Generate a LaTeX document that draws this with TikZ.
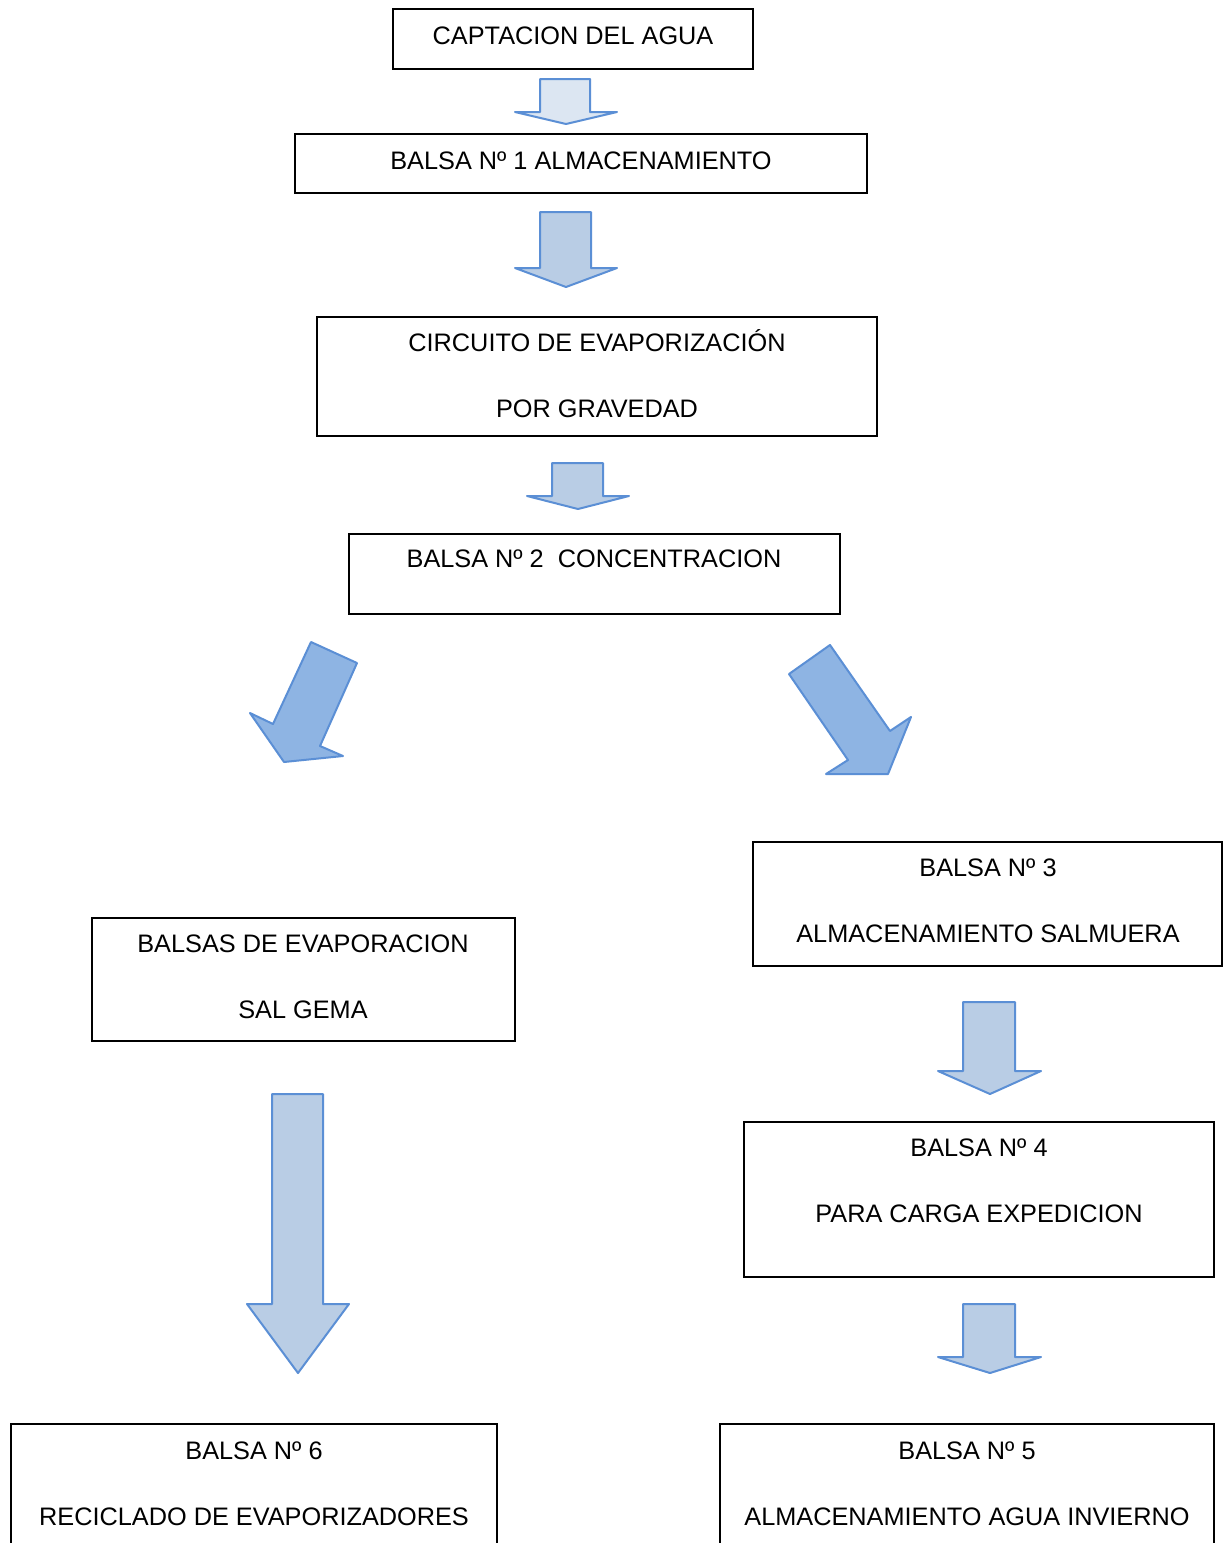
\documentclass[tikz,border=0pt]{standalone}
\usepackage{fontspec}
\setmainfont{Liberation Sans}
\begin{document}
\begin{tikzpicture}[x=1pt,y=-1pt,
  box/.style={draw=black,line width=1.4pt},
  lbl/.style={font=\fontsize{25.3}{28}\selectfont,anchor=base,inner sep=0pt},
  barrow/.style={draw=arrowline,line width=2pt,line join=round,fill=arrowfill},
  barrowlight/.style={barrow,fill=arrowlight},
  darrow/.style={barrow,fill=arrowdark}]
\definecolor{arrowline}{RGB}{91,143,213}
\definecolor{arrowfill}{RGB}{185,205,229}
\definecolor{arrowlight}{RGB}{220,230,242}
\definecolor{arrowdark}{RGB}{142,180,227}
\useasboundingbox[fill=white] (0,0) rectangle (1223,1543);
% boxes
\draw[box] (393,9) rectangle (753,69);
\draw[box] (295,134) rectangle (867,193);
\draw[box] (317,317) rectangle (877,436);
\draw[box] (349,534) rectangle (840,614);
\draw[box] (92,918) rectangle (515,1041);
\draw[box] (753,842) rectangle (1222,966);
\draw[box] (744,1122) rectangle (1214,1277);
\draw[box] (11,1424) rectangle (497,1600);
\draw[box] (720,1424) rectangle (1214,1600);
% texts
\node[lbl] (t1) at (573,44) {CAPTACION DEL AGUA};
\node[lbl] (t2) at (581,169) {BALSA Nº 1 ALMACENAMIENTO};
\node[lbl] (t3a) at (597,351) {CIRCUITO DE EVAPORIZACIÓN};
\node[lbl] (t3b) at (597,417) {POR GRAVEDAD};
\node[lbl] (t4) at (594,567) {BALSA Nº 2\ \ CONCENTRACION};
\node[lbl] (t5a) at (303,952) {BALSAS DE EVAPORACION};
\node[lbl] (t5b) at (303,1018) {SAL GEMA};
\node[lbl] (t6a) at (988,876) {BALSA Nº 3};
\node[lbl] (t6b) at (988,942) {ALMACENAMIENTO SALMUERA};
\node[lbl] (t7a) at (979,1156) {BALSA Nº 4};
\node[lbl] (t7b) at (979,1222) {PARA CARGA EXPEDICION};
\node[lbl] (t8a) at (254,1459) {BALSA Nº 6};
\node[lbl] (t8b) at (254,1525) {RECICLADO DE EVAPORIZADORES};
\node[lbl] (t9a) at (967,1459) {BALSA Nº 5};
\node[lbl] (t9b) at (967,1525) {ALMACENAMIENTO AGUA INVIERNO};
% block arrows
\draw[barrowlight] (540,79) -- (590,79) -- (590,112) -- (617,112) -- (566,124) -- (515,112) -- (540,112) -- cycle;
\draw[barrow] (540,212) -- (591,212) -- (591,268) -- (617,268) -- (566,287) -- (515,268) -- (540,268) -- cycle;
\draw[barrow] (552,463) -- (603,463) -- (603,496) -- (629,496) -- (578,509) -- (527,496) -- (552,496) -- cycle;
\draw[barrow] (272,1094) -- (323,1094) -- (323,1304) -- (349,1304) -- (298,1373) -- (247,1304) -- (272,1304) -- cycle;
\draw[barrow] (963,1002) -- (1015,1002) -- (1015,1071) -- (1041,1071) -- (990,1094) -- (938,1071) -- (963,1071) -- cycle;
\draw[barrow] (963,1304) -- (1015,1304) -- (1015,1357) -- (1041,1357) -- (990,1373) -- (938,1357) -- (963,1357) -- cycle;
\draw[darrow] (311,642) -- (357,663) -- (320,746) -- (343,756) -- (284,762) -- (250,713) -- (273,724) -- cycle;
\draw[darrow] (830,645) -- (789,674) -- (848,760) -- (826,774) -- (888,774) -- (911,717) -- (890,731) -- cycle;
\end{tikzpicture}
\end{document}
